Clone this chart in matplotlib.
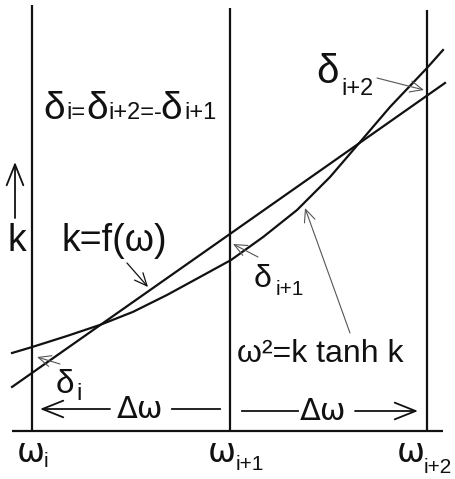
import matplotlib
matplotlib.use("Agg")
import matplotlib.pyplot as plt

# grid nodes on the frequency axis
omega_nodes = [0.0, 1.0, 2.0]
node_tops = [2.157, 2.142, 2.132]
node_labels = ["i", "i+1", "i+2"]

# dispersion relation w^2 = k tanh k (sampled)
curve_omega = [-0.101, 0.000, 0.177, 0.344, 0.511, 0.684, 0.851, 1.008,
               1.170, 1.342, 1.509, 1.661, 1.813, 2.000, 2.081]
curve_k = [0.395, 0.425, 0.481, 0.537, 0.603, 0.689, 0.780, 0.866,
           0.982, 1.119, 1.286, 1.463, 1.641, 1.838, 1.929]

# straight-line approximation k = f(w)
fit_omega = [-0.101, 2.091]
fit_k = [0.223, 1.762]

# layout in figure pixels: origin of w_i on the baseline, pixels per unit
X0, Y0, S = 32.0, 431.0, 197.5
W, H = 455, 479

SANS = ["Liberation Sans", "DejaVu Sans"]
GREEK = ["DejaVu Sans"]


def at(x, y):
    return ((x - X0) / S, (Y0 - y) / S)


fig = plt.figure(figsize=(W / 100, H / 100), dpi=100, facecolor="white")
ax = fig.add_axes([0, 0, 1, 1])
ax.set_xlim(-X0 / S, (W - X0) / S)
ax.set_ylim((Y0 - H) / S, Y0 / S)
ax.axis("off")

ink = "#111111"

# frame: baseline and node verticals
ax.plot([at(12, 0)[0], at(443, 0)[0]], [0, 0], color=ink, lw=1.6, solid_capstyle="butt")
for w, top in zip(omega_nodes, node_tops):
    ax.plot([w, w], [0, top], color=ink, lw=1.6, solid_capstyle="butt")

ax.plot(curve_omega, curve_k, color=ink, lw=1.6, solid_joinstyle="round")
ax.plot(fit_omega, fit_k, color=ink, lw=1.6)


def txt(s, x, y, size, family=SANS):
    ax.text(*at(x, y), s, fontsize=size, family=family, color=ink,
            ha="left", va="baseline")


def pointer(tail, head, color="#555555", lw=0.8, hl=0.45, hw=0.2):
    ax.annotate("", xy=at(*head), xytext=at(*tail),
                arrowprops=dict(arrowstyle=f"->,head_length={hl},head_width={hw}",
                                color=color, lw=lw, shrinkA=0, shrinkB=0,
                                mutation_scale=20))


# relation between the errors at the nodes
for s, x, size in [("δ", 43, 28), ("i=", 66, 17), ("δ", 86, 28),
                   ("i+2=-", 108, 17), ("δ", 160, 28), ("i+1", 184, 17)]:
    txt(s, x, 119, size)

# error labels
txt("δ", 316, 83, 29)
txt("i+2", 341, 95, 17)
pointer((377, 78), (424, 90))

txt("δ", 254, 287, 23)
txt("i+1", 276, 295, 15)
pointer((258, 257), (233, 244))

txt("δ", 56, 393, 24)
txt("i", 76, 400, 17)
pointer((60, 364), (37, 357))

# vertical axis label
txt("k", 7, 251, 27)
pointer((15, 218), (15, 162), color=ink, lw=1.3, hl=0.75, hw=0.3)

# curve labels
txt("k=f(ω)", 61, 251, 27)
pointer((127, 263), (148, 287), color=ink, lw=0.9)

txt("ω²=k tanh k", 237, 362, 23)
pointer((350, 333), (305, 208))

# spacing arrows
txt("Δω", 117, 418, 22, GREEK)
pointer((110, 409), (40, 409), color=ink, lw=1.3, hl=0.75, hw=0.3)
ax.plot([at(172, 0)[0], at(220, 0)[0]], [at(0, 409)[1]] * 2, color=ink, lw=1.3)

txt("Δω", 300, 420, 22, GREEK)
ax.plot([at(242, 0)[0], at(298, 0)[0]], [at(0, 411)[1]] * 2, color=ink, lw=1.3)
pointer((355, 411), (418, 411), color=ink, lw=1.3, hl=0.75, hw=0.3)

# node labels under the baseline
label_x = [17, 208, 397]
sub_x = [44, 236, 424]
sub_y = [467, 470, 473]
for lab, xw, xs, ys in zip(node_labels, label_x, sub_x, sub_y):
    txt("ω", xw, 462, 24, GREEK)
    txt(lab, xs, ys, 15)

fig.savefig("out.png", dpi=100, facecolor="white")
